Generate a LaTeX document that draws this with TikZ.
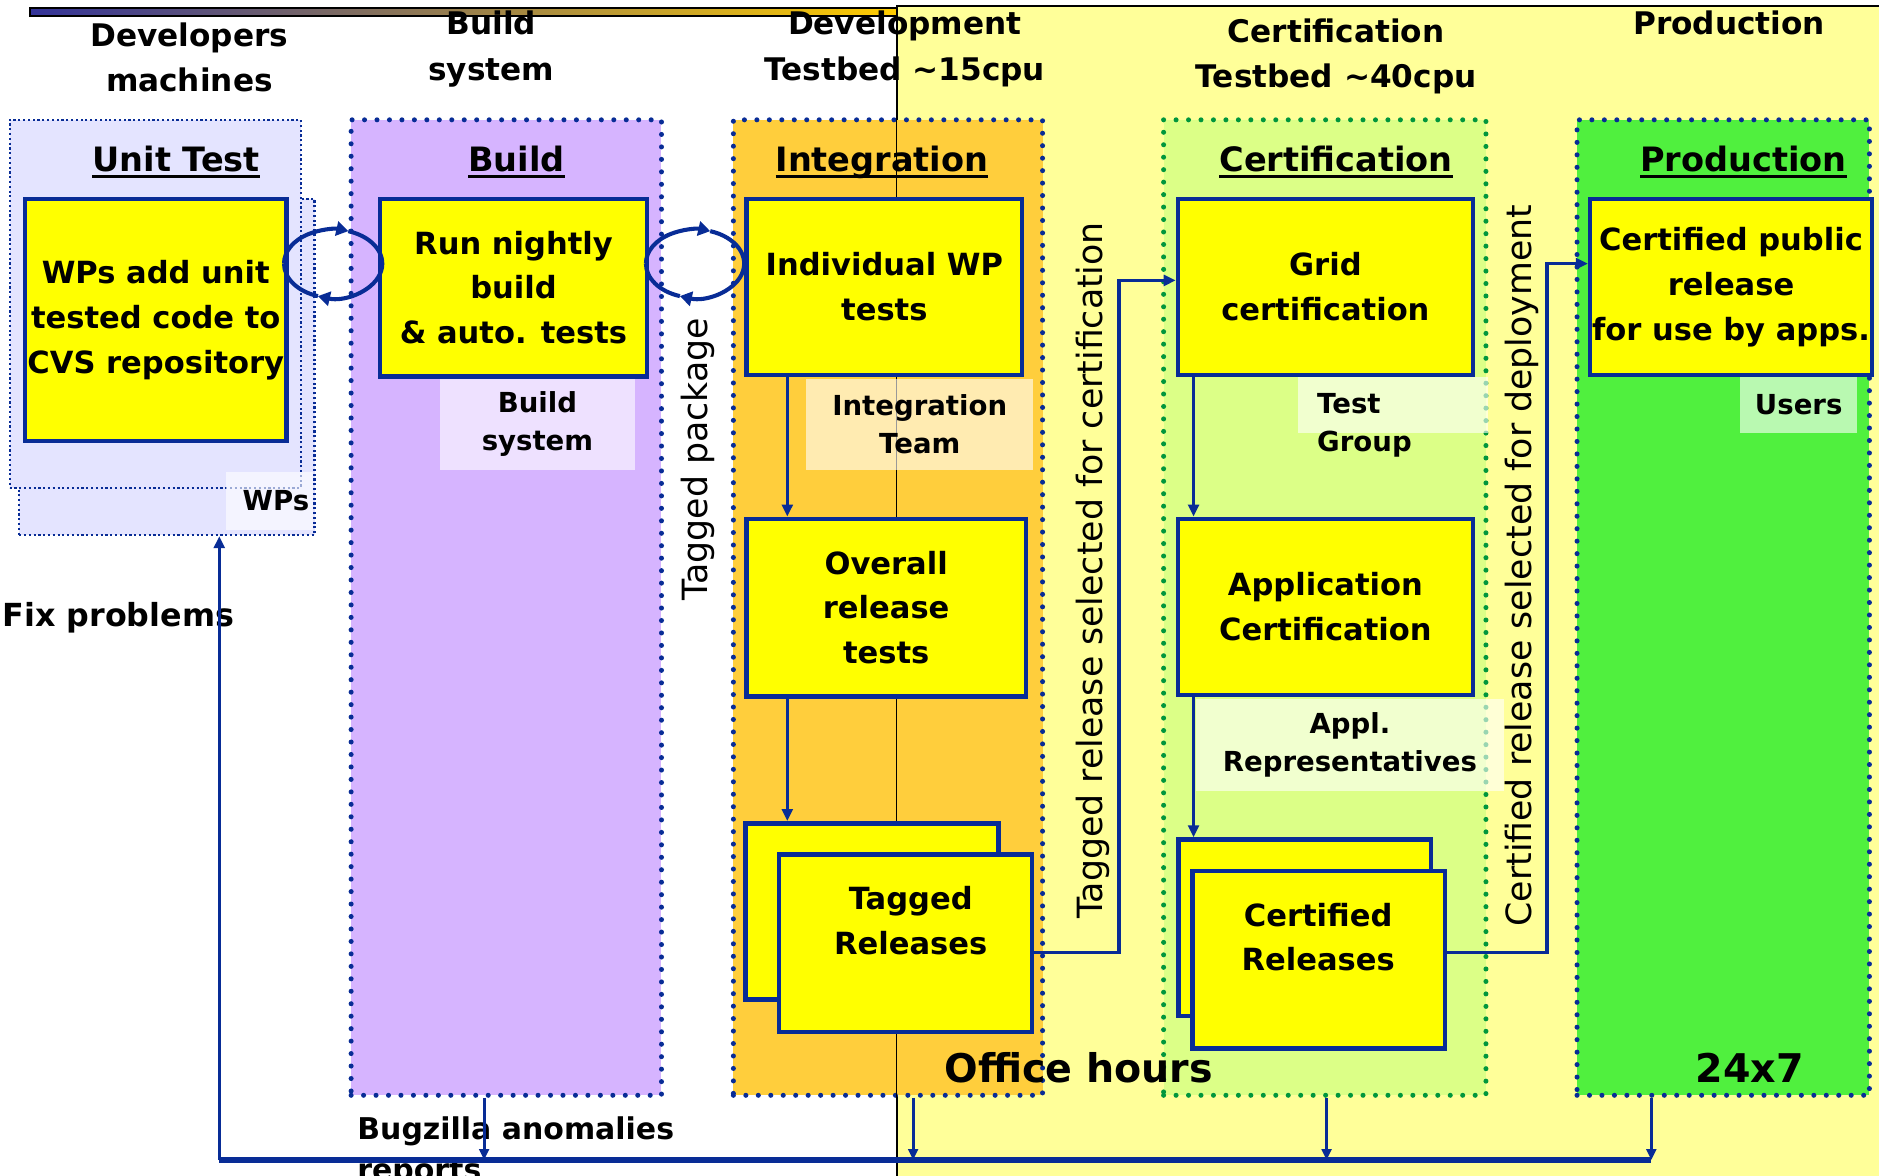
\documentclass[tikz,border=0pt]{standalone}
\usepackage{fontspec}
\setmainfont{DejaVu Sans}
\usetikzlibrary{arrows.meta}

\definecolor{ink}{RGB}{8,44,150}
\definecolor{dotgreen}{RGB}{0,150,60}
\definecolor{zoneyellow}{RGB}{255,255,153}
\definecolor{unitfill}{RGB}{228,228,255}
\definecolor{buildfill}{RGB}{214,180,255}
\definecolor{integfill}{RGB}{255,206,60}
\definecolor{certfill}{RGB}{220,255,135}
\definecolor{prodfill}{RGB}{80,240,62}
\definecolor{boxyellow}{RGB}{255,255,0}
\definecolor{barblue}{RGB}{51,51,153}
\definecolor{bargold}{RGB}{255,204,0}

% underlined lane title
\newcommand\lanehead[1]{\sbox0{#1}\rlap{\rule[-5.5pt]{\wd0}{2.4pt}}\usebox0}

\tikzset{
  lanebig/.style={rectangle, inner sep=0pt, draw=ink, line width=4.2pt,
    dash pattern=on 0pt off 10.4pt, line cap=round},
  lanesmall/.style={rectangle, inner sep=0pt, draw=ink, line width=1.8pt,
    dash pattern=on 1.8pt off 2.2pt},
  task/.style={rectangle, inner sep=0pt, fill=boxyellow, draw=ink, line width=3.8pt,
    align=center, font=\bfseries\fontsize{25.5}{37.5}\selectfont},
  tasktext/.style={inner sep=0pt, align=center, font=\bfseries\fontsize{25.5}{37.5}\selectfont},
  role/.style={rectangle, inner sep=0pt, fill=white, fill opacity=0.6, text opacity=1,
    align=center, font=\bfseries\fontsize{23}{32}\selectfont},
  roletext/.style={inner sep=0pt, font=\bfseries\fontsize{23}{32}\selectfont},
  header/.style={inner sep=0pt, align=center, font=\bfseries\fontsize{26}{38}\selectfont},
  lanetitle/.style={inner sep=0pt, anchor=base, font=\bfseries\fontsize{28}{34}\selectfont},
  vlabel/.style={inner sep=0pt, rotate=90, font=\fontsize{29}{34}\selectfont},
  note/.style={inner sep=0pt, font=\bfseries\fontsize{25}{34}\selectfont},
  bignote/.style={inner sep=0pt, anchor=base, font=\bfseries\fontsize{33}{40}\selectfont},
  flow/.style={draw=ink, line width=3pt, -{Triangle[width=9pt,length=10pt]}},
  drop/.style={draw=ink, line width=2.4pt, -{Triangle[width=8pt,length=9pt]}},
  feedback/.style={draw=ink, line width=4.5pt},
  cyclearc/.style={draw=ink, line width=3.4pt},
  cyclehead/.style={draw=ink, line width=3.4pt, -{Triangle[width=12pt,length=10pt]}},
}

\begin{document}
\begin{tikzpicture}[x=1pt, y=-1pt]
\useasboundingbox (0,0) rectangle (1568,981);
\fill[white] (0,0) rectangle (1568,981);

% title bar and the testbed zone
\shade[left color=barblue, right color=bargold, draw=black, line width=1.4pt]
  (25,6.5) rectangle (748,13.5);
\node[rectangle, inner sep=0pt, fill=zoneyellow, draw=black, line width=1.2pt,
  anchor=north west, minimum width=830pt, minimum height=985pt] (zone) at (748,4.5) {};

% column headers
\node[header] (hDev)   at (158,48) {Developers\\machines};
\node[header] (hBuild) at (410,41) {Build\\system};
\node[header] (hInt)   at (755,41) {Development\\Testbed \textasciitilde15cpu};
\node[header] (hCert)  at (1115,47) {Certification\\Testbed \textasciitilde40cpu};
\node[header] (hProd)  at (1443,19) {Production};

% lanes
\node[lanesmall, fill=unitfill, minimum width=246.5pt, minimum height=280.5pt] (unitB) at (139.25,306.25) {};
\node[lanesmall, fill=unitfill, minimum width=243pt, minimum height=307pt] (unitF) at (129.5,253.5) {};
\node[lanebig, fill=buildfill, minimum width=259pt, minimum height=814pt] (build) at (422.5,507) {};
\node[lanebig, fill=integfill, minimum width=258pt, minimum height=814pt] (integ) at (741,507) {};
\node[lanebig, fill=certfill, draw=dotgreen, minimum width=269pt, minimum height=814pt] (cert) at (1105.5,507) {};
\node[lanebig, fill=prodfill, minimum width=244pt, minimum height=814pt] (prod) at (1438,507) {};

% edge of the testbed zone, seen through the integration lane
\draw[black, line width=0.8pt] (zone.north west) -- (zone.south west);

% lane titles
\node[lanetitle] (tUnit)  at (147,143)  {\lanehead{Unit Test}};
\node[lanetitle] (tBuild) at (431,143)  {\lanehead{Build}};
\node[lanetitle] (tInt)   at (736,143)  {\lanehead{Integration}};
\node[lanetitle] (tCert)  at (1115,143) {\lanehead{Certification}};
\node[lanetitle] (tProd)  at (1455,143) {\lanehead{Production}};

% who is responsible
\node[role, text width=66pt, inner xsep=3pt, align=right, minimum height=48pt] (rWP) at (225,418) {WPs};
\node[role, minimum width=163pt, minimum height=76pt] (rBuild) at (448.5,354) {Build\\system};
\node[role, minimum width=189pt, minimum height=76pt] (rInt) at (767.5,354) {Integration\\Team};
\node[role, minimum width=159pt, minimum height=46pt] (rTest) at (1162.5,338) {};
\node[roletext, align=left, anchor=west] (rTestT) at (1099,355) {Test\\Group};
\node[role, minimum width=257pt, minimum height=77pt] (rAppl) at (1126.5,621.5) {Appl.\\Representatives};
\node[role, minimum width=98pt, minimum height=46pt] (rUsers) at (1501,338) {Users};

% activity boxes
\node[task, minimum width=218pt, minimum height=202pt] (wp) at (130,267)
  {WPs add unit\\tested code to\\CVS repository};
\node[task, minimum width=223pt, minimum height=148pt] (nightly) at (428.5,240)
  {Run nightly\\build\\\& auto. tests};
\node[task, minimum width=230pt, minimum height=147pt] (indiv) at (738,239.5)
  {Individual WP\\tests};
\node[task, minimum width=233pt, minimum height=148pt] (overall) at (739.5,507)
  {Overall\\release\\tests};
\node[task, minimum width=211pt, minimum height=147pt] (tagB) at (727.5,760.5) {};
\node[task, minimum width=211pt, minimum height=148pt] (tagF) at (755.5,787) {};
\node[tasktext] (tagT) at (760,768) {Tagged\\Releases};
\node[task, minimum width=246pt, minimum height=147pt] (grid) at (1106,239.5)
  {Grid\\certification};
\node[task, minimum width=246pt, minimum height=147pt] (app) at (1106,506.5)
  {Application\\Certification};
\node[task, minimum width=210.4pt, minimum height=147.4pt] (certB) at (1088.8,774.3) {};
\node[task, minimum width=211pt, minimum height=148pt] (certF) at (1100.5,801) {};
\node[tasktext] (certT) at (1100,782) {Certified\\Releases};
\node[task, minimum width=235pt, minimum height=147pt] (pub) at (1444.5,239.5)
  {Certified public\\release\\for use by apps.};

% hand-over cycles between neighbouring activities
\coordinate (cycA) at (278,220);
\coordinate (cycB) at (580,220);
\foreach \c in {cycA, cycB}{
  \draw[cyclehead] (\c) ++(180:41 and 28.5) arc[start angle=180, end angle=288, x radius=41, y radius=28.5];
  \draw[cyclehead] (\c) ++(288:41 and 28.5) arc[start angle=288, end angle=468, x radius=41, y radius=28.5];
  \draw[cyclearc]  (\c) ++(468:41 and 28.5) arc[start angle=468, end angle=540, x radius=41, y radius=28.5];
}

% flow inside the integration and certification lanes
\coordinate (colI) at (657,0);
\coordinate (colC) at (996,0);
\draw[flow] (indiv.south -| colI) -- (overall.north -| colI);
\draw[flow] (overall.south -| colI) -- (tagB.north -| colI);
\draw[flow] (grid.south -| colC) -- (app.north -| colC);
\draw[flow] (app.south -| colC) -- (certB.north -| colC);

% promotion between lanes
\coordinate (selLo) at (934,795);
\coordinate (selHi) at (934,234);
\draw[flow] (tagF.east |- selLo) -- (selLo) -- (selHi) -- (grid.west |- selHi);
\coordinate (depLo) at (1291,795);
\coordinate (depHi) at (1291,220);
\draw[flow] (certF.east |- depLo) -- (depLo) -- (depHi) -- (pub.west |- depHi);

% rotated captions
\node[vlabel] (vPkg)  at (582,383) {Tagged package};
\node[vlabel] (vSel)  at (912,476) {Tagged release selected for certification};
\node[vlabel] (vDep)  at (1270,472) {Certified release selected for deployment};

% notes
\node[bignote] (office) at (900,903) {Office hours};
\node[bignote] (allday) at (1460,903) {24x7};
\node[note, anchor=base west, font=\bfseries\fontsize{26.5}{34}\selectfont] (fix) at (2,523) {Fix problems};
\node[note, align=left, anchor=north west] (bugz) at (298,932) {Bugzilla anomalies\\reports};

% problem reports fed back to the developers
\coordinate (fbL) at (183,968);
\coordinate (fbR) at (1378,968);
\coordinate (dBuild) at (404,968);
\coordinate (dInt) at (762,968);
\coordinate (dCert) at (1107,968);
\draw[feedback] (fbL) -- (fbR);
\draw[flow] (fbL) -- (fbL |- unitB.south);
\draw[drop] (build.south -| dBuild) -- (dBuild);
\draw[drop] (integ.south -| dInt) -- (dInt);
\draw[drop] (cert.south -| dCert) -- (dCert);
\draw[drop] (prod.south -| fbR) -- (fbR);
\end{tikzpicture}
\end{document}
